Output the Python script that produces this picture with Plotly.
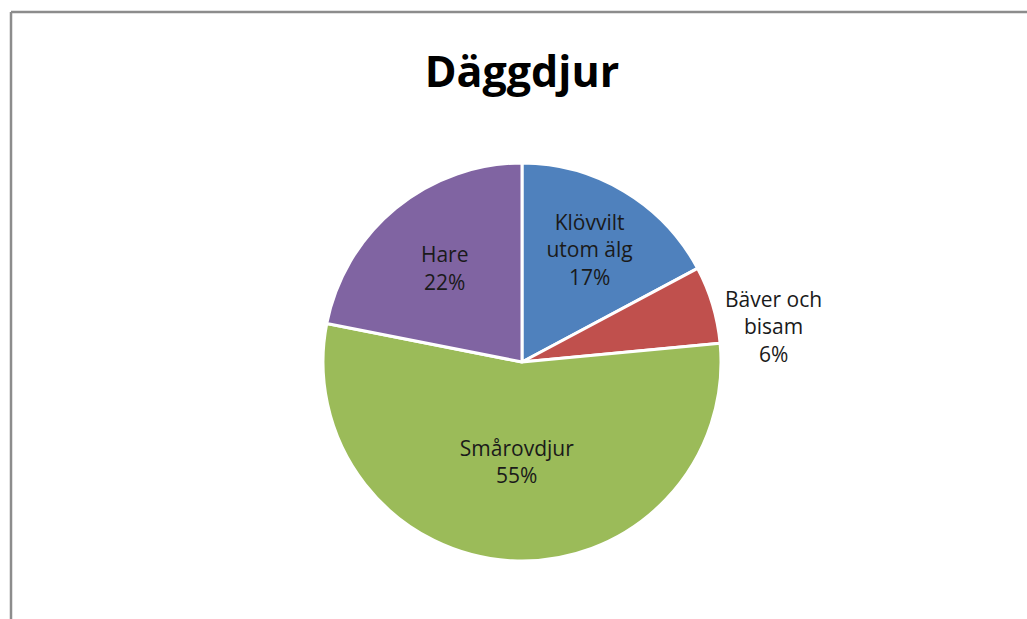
import plotly.graph_objects as go

categories = ["Klövvilt<br>utom älg", "Bäver och<br>bisam", "Smårovdjur", "Hare"]
values = [17.2, 6.3, 54.6, 21.9]
colors = ["#4F81BD", "#C0504D", "#9BBB59", "#8064A2"]
positions = ["inside", "none", "inside", "inside"]

W, H = 1027, 619
cx, cy, r = 522, 362, 199
FONT = "Open Sans, Lato, sans-serif"

fig = go.Figure(go.Pie(
    labels=categories,
    values=values,
    sort=False,
    direction="clockwise",
    rotation=0,
    marker=dict(colors=colors, line=dict(color="white", width=3)),
    texttemplate="%{label}<br>%{percent:.0%}",
    textposition=positions,
    insidetextorientation="horizontal",
    textfont=dict(family=FONT, size=21, color="#1a1a1a"),
    showlegend=False,
    hoverinfo="label+percent",
    domain=dict(x=[(cx - r) / W, (cx + r) / W], y=[1 - (cy + r) / H, 1 - (cy - r) / H]),
))

# outside label for the small slice, placed like the original
total = sum(values)
small_label = categories[1] + "<br>" + f"{values[1] / total:.0%}"

fig.update_layout(
    width=W, height=H,
    margin=dict(l=0, r=0, t=0, b=0),
    paper_bgcolor="white",
    title=dict(text="<b>Däggdjur</b>", x=522 / W, xanchor="center", y=1 - 72 / H, yanchor="middle",
               font=dict(family=FONT, size=43, color="black")),
    uniformtext=dict(minsize=21, mode="show"),
    annotations=[
        dict(text=small_label, xref="paper", yref="paper", x=773 / W, y=1 - 326 / H,
             xanchor="center", yanchor="middle", showarrow=False, align="center",
             font=dict(family=FONT, size=21, color="#1a1a1a")),
    ],
    shapes=[
        dict(type="line", xref="paper", yref="paper", x0=11 / W, x1=11 / W, y0=0, y1=1 - 12 / H,
             line=dict(color="#8c8c8c", width=2.5)),
        dict(type="line", xref="paper", yref="paper", x0=11 / W, x1=1, y0=1 - 12 / H, y1=1 - 12 / H,
             line=dict(color="#8c8c8c", width=2.5)),
    ],
)

fig.write_html("out.html", config={"displayModeBar": False},
               post_script="document.body.style.margin='0';document.body.style.overflow='hidden';")
